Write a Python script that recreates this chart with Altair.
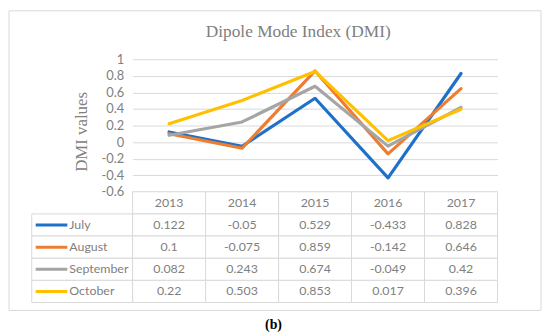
import altair as alt
import pandas as pd

# ---- data ----
years = ["2013", "2014", "2015", "2016", "2017"]
months = ["July", "August", "September", "October"]
july = [0.122, -0.05, 0.529, -0.433, 0.828]
august = [0.1, -0.075, 0.859, -0.142, 0.646]
september = [0.082, 0.243, 0.674, -0.049, 0.42]
october = [0.22, 0.503, 0.853, 0.017, 0.396]
y_ticks = [-0.6, -0.4, -0.2, 0, 0.2, 0.4, 0.6, 0.8, 1]
colors = ["#1f70c8", "#ed7d31", "#a5a5a5", "#ffc000"]

series = {"July": july, "August": august, "September": september, "October": october}

line_rows = []
for m in months:
    for y, v in zip(years, series[m]):
        line_rows.append({"month": m, "year": y, "value": v})
line_df = pd.DataFrame(line_rows)

row_order = ["header"] + months
cell_rows = []
for y in years:
    cell_rows.append({"row": "header", "year": y, "label": y})
for m in months:
    for y, v in zip(years, series[m]):
        cell_rows.append({"row": m, "year": y, "label": str(v)})
cell_df = pd.DataFrame(cell_rows)
name_df = pd.DataFrame({"row": months})
one_df = pd.DataFrame({"a": [0]})

GRID = "#d9d9d9"
TXT = "#808080"
SANS = "Lato"
SERIF = "Liberation Serif"

color_scale = alt.Scale(domain=months, range=colors)
x_band = alt.Scale(domain=years, paddingInner=0, paddingOuter=0)
y_band = alt.Scale(domain=row_order, paddingInner=0, paddingOuter=0)

# ---- top: line chart ----
top = alt.Chart(line_df).mark_line(strokeWidth=3.2, strokeJoin="round", strokeCap="round").encode(
    x=alt.X("year:O", scale=alt.Scale(domain=years), axis=None),
    y=alt.Y("value:Q", scale=alt.Scale(domain=[-0.6, 1], nice=False, zero=False),
            axis=alt.Axis(values=y_ticks, grid=True, gridColor=GRID, gridWidth=1,
                          ticks=False, domain=False, labelPadding=9,
                          labelFont=SANS, labelFontSize=13, labelColor=TXT,
                          labelExpr="toString(round(datum.value*10)/10)",
                          title="DMI values", titleFont=SERIF, titleFontSize=17,
                          titleFontWeight="normal", titleColor=TXT,
                          titleX=-52, titleY=73, titleAngle=-90,
                          titleAlign="center", titleBaseline="middle")),
    color=alt.Color("month:N", scale=color_scale, legend=None),
    order=alt.Order("month:N"),
).properties(
    width=369, height=134,
    title=alt.TitleParams("Dipole Mode Index (DMI)", font=SERIF, fontSize=17.5,
                          fontWeight="normal", color=TXT, anchor="middle",
                          frame="group", dx=-17, offset=-1, baseline="alphabetic"),
)

spacer = alt.Chart(one_df).mark_text(text="").properties(width=102, height=134)

# ---- bottom-left: series names column ----
frame = alt.Chart(one_df).mark_rect(fillOpacity=0, stroke=GRID, strokeWidth=1).encode(
    x=alt.value(-23), x2=alt.value(515), y=alt.value(-183), y2=alt.value(120)
)
name_cells = alt.Chart(name_df).mark_rect(fill="white", stroke=GRID, strokeWidth=1).encode(
    y=alt.Y("row:N", scale=y_band, axis=None)
)
swatch = alt.Chart(name_df).mark_rule(strokeWidth=3).encode(
    x=alt.value(4), x2=alt.value(36),
    y=alt.Y("row:N", scale=y_band, axis=None),
    color=alt.Color("row:N", scale=color_scale, legend=None),
)
names = alt.Chart(name_df).mark_text(align="left", baseline="middle", font=SANS,
                                      fontSize=12.5, color=TXT).encode(
    x=alt.value(38),
    y=alt.Y("row:N", scale=y_band, axis=None),
    text="row:N",
)
labels = alt.layer(frame, name_cells, swatch, names).properties(width=102, height=112)

# ---- bottom-right: value table ----
cells = alt.Chart(cell_df).mark_rect(fill="white", stroke=GRID, strokeWidth=1).encode(
    x=alt.X("year:N", scale=x_band, axis=None),
    y=alt.Y("row:N", scale=y_band, axis=None),
)
cell_text = alt.Chart(cell_df).mark_text(baseline="middle", font=SANS, fontSize=12.5,
                                         color=TXT).encode(
    x=alt.X("year:N", scale=x_band, axis=None),
    y=alt.Y("row:N", scale=y_band, axis=None),
    text="label:N",
)
values = alt.layer(cells, cell_text).properties(
    width=369, height=112,
    title=alt.TitleParams("(b)", orient="bottom", font=SERIF, fontSize=14,
                          fontWeight="bold", color="black", anchor="middle",
                          frame="group", dx=-42, offset=15, baseline="top"),
)

chart = alt.concat(spacer, top, labels, values, columns=2, spacing=0, bounds="flush").resolve_scale(
    x="independent", y="independent"
).configure_view(stroke=None).properties(padding=0)

chart.save("out.html", embed_options={"renderer": "svg", "actions": False})
